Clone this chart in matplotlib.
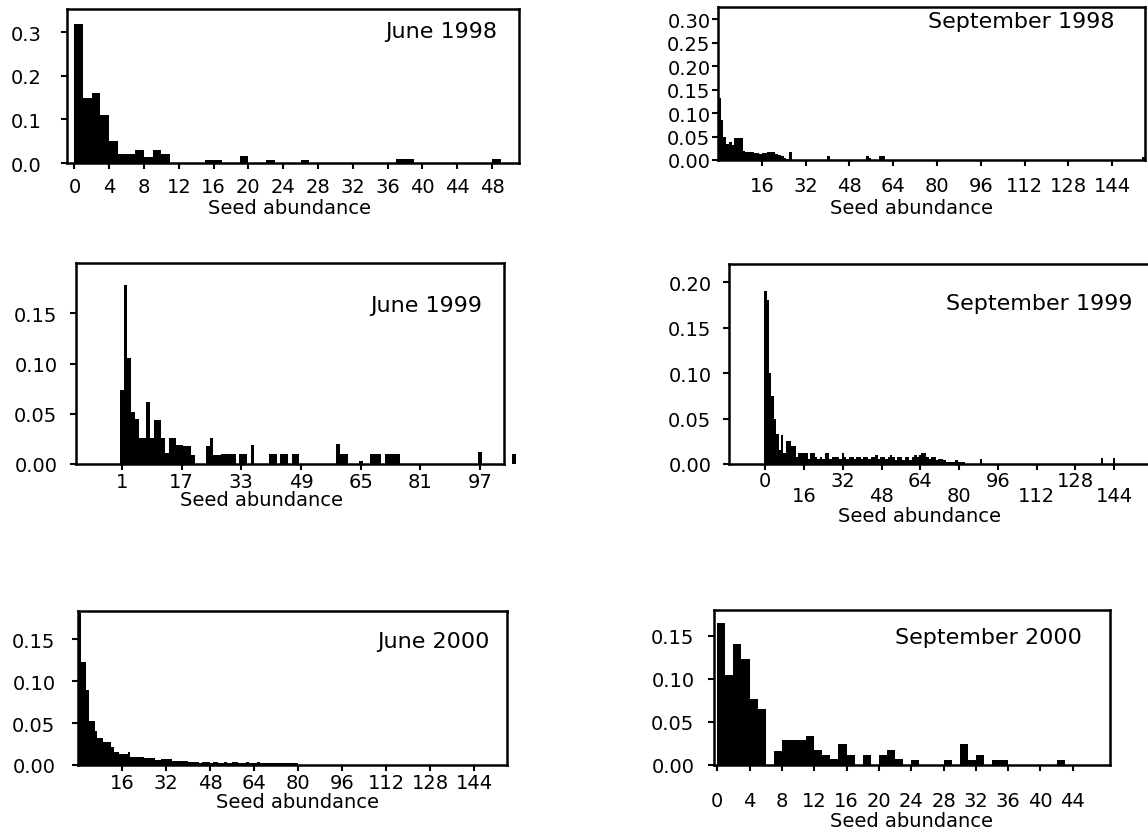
import matplotlib
matplotlib.use("Agg")
import matplotlib.pyplot as plt
from matplotlib.ticker import FixedLocator, FixedFormatter

plt.rcParams['font.family'] = ['DejaVu Sans']

# ---- data (relative frequency per seed abundance class) ----
june98_x = list(range(50))
june98_h = [0.32, 0.15, 0.16, 0.11, 0.05, 0.021, 0.021, 0.03, 0.013, 0.03,
            0.021, 0, 0, 0, 0, 0.007, 0.007, 0, 0, 0.017,
            0, 0, 0.007, 0, 0, 0, 0.007, 0, 0, 0,
            0, 0, 0, 0, 0, 0, 0, 0.009, 0.009, 0,
            0, 0, 0, 0, 0, 0, 0, 0, 0.009, 0]

sep98_x = list(range(61)) + [155]
sep98_h = [0.133, 0.085, 0.048, 0.035, 0.038, 0.032, 0.046, 0.046, 0.046, 0.02,
           0.018, 0.018, 0.018, 0.015, 0.015, 0.012, 0.014, 0.014, 0.018, 0.018,
           0.018, 0.012, 0.01, 0.008, 0.004, 0.003, 0.018, 0, 0, 0,
           0, 0, 0, 0, 0, 0, 0, 0, 0, 0,
           0.008, 0, 0, 0, 0, 0, 0, 0, 0, 0,
           0, 0, 0, 0, 0.008, 0.005, 0, 0, 0, 0.009,
           0.009, 0.007]

june99_x = list(range(1, 50)) + [59, 60, 61, 65, 68, 69, 70, 72, 73, 74, 75, 97, 106]
june99_h = [0.074, 0.178, 0.105, 0.052, 0.045, 0.026, 0.026, 0.062, 0.026, 0.044,
            0.044, 0.026, 0.011, 0.026, 0.026, 0.019, 0.019, 0.018, 0.018, 0.009,
            0, 0, 0, 0.018, 0.026, 0.009, 0.009, 0.01, 0.01, 0.01,
            0.01, 0, 0.01, 0.01, 0, 0.019, 0, 0, 0, 0,
            0.01, 0.01, 0, 0.01, 0.01, 0, 0.01, 0.01, 0,
            0.02, 0.01, 0.01, 0.003, 0.01, 0.01, 0.01, 0.01, 0.01, 0.01, 0.01,
            0.012, 0.01]

sep99_x = list(range(83)) + [89, 139, 144]
sep99_h = [0.19, 0.18, 0.10, 0.075, 0.05, 0.033, 0.015, 0.032, 0.012, 0.025,
           0.025, 0.02, 0.02, 0.008, 0.012, 0.012, 0.012, 0.012, 0.005, 0.012,
           0.012, 0.008, 0.005, 0.008, 0.005, 0.012, 0.012, 0.006, 0.008, 0.008,
           0.008, 0.006, 0.012, 0.008, 0.005, 0.008, 0.008, 0.005, 0.008, 0.008,
           0.005, 0.008, 0.008, 0.005, 0.008, 0.008, 0.01, 0.005, 0.008, 0.008,
           0.005, 0.008, 0.01, 0.008, 0.004, 0.008, 0.008, 0.004, 0.008, 0.008,
           0.004, 0.008, 0.01, 0.008, 0.01, 0.012, 0.012, 0.008, 0.005, 0.008,
           0.008, 0.004, 0.006, 0.006, 0.004, 0.002, 0.002, 0.002, 0.002, 0.004,
           0.002, 0.002, 0.002,
           0.005, 0.007, 0.007]

june00_x = list(range(80))
june00_h = [0.182, 0.123, 0.123, 0.09, 0.053, 0.053, 0.041, 0.032, 0.032, 0.028,
            0.028, 0.028, 0.022, 0.015, 0.015, 0.013, 0.013, 0.013, 0.016, 0.01,
            0.01, 0.01, 0.01, 0.01, 0.008, 0.008, 0.008, 0.008, 0.006, 0.006,
            0.007, 0.007, 0.007, 0.007, 0.005, 0.005, 0.005, 0.005, 0.005, 0.005,
            0.003, 0.003, 0.004, 0.003, 0.002, 0.003, 0.004, 0.003, 0.002, 0.003,
            0.003, 0.002, 0.002, 0.003, 0.002, 0.002, 0.003, 0.003, 0.002, 0.002,
            0.002, 0.003, 0.002, 0.002, 0.002, 0.003, 0.002, 0.002, 0.002, 0.002,
            0.002, 0.002, 0.002, 0.002, 0.002, 0.002, 0.002, 0.002, 0.002, 0.002]

sep00_x = list(range(43))
sep00_h = [0.165, 0.105, 0.14, 0.123, 0.077, 0.065, 0, 0.016, 0.029, 0.029,
           0.029, 0.034, 0.018, 0.012, 0.007, 0.024, 0.012, 0, 0.012, 0,
           0.012, 0.017, 0.007, 0, 0.006, 0, 0, 0, 0.006, 0,
           0.024, 0.006, 0.012, 0, 0.006, 0.006, 0, 0, 0, 0,
           0, 0, 0.006]

titles = ['June 1998', 'September 1998', 'June 1999',
          'September 1999', 'June 2000', 'September 2000']

W, H = 1148, 837
fig = plt.figure(figsize=(W / 100, H / 100), dpi=100)
PT = 0.72  # points per pixel at 100 dpi


def add_ax(box):
    left, right, top, bottom = box
    return fig.add_axes([left / W, 1 - bottom / H, (right - left) / W, (bottom - top) / H])


def style(ax, box, title, title_off, xpad, ypad, label_xy):
    left, right, top, bottom = box
    for s in ax.spines.values():
        s.set_linewidth(1.8)
    ax.tick_params(direction='out', length=4, width=1.5, labelsize=14,
                   top=False, right=False)
    ax.tick_params(axis='x', pad=xpad * PT)
    ax.tick_params(axis='y', pad=ypad * PT)
    ax.annotate(title, xy=(1, 1), xycoords='axes fraction',
                xytext=(-title_off[0] * PT, -title_off[1] * PT),
                textcoords='offset points', ha='right', va='center', fontsize=16)
    ax.set_xlabel('Seed abundance', fontsize=14)
    lx, ly = label_xy
    ax.xaxis.set_label_coords((lx - left) / (right - left), (bottom - ly) / (bottom - top))
    ax.xaxis.label.set_verticalalignment('center')


# June 1998
box = (67, 519, 10, 164)
ax = add_ax(box)
ax.bar(june98_x, june98_h, width=1, align='edge', color='black')
ax.set_xlim(-0.85, 51.1)
ax.set_ylim(0, 0.354)
ax.set_xticks(range(0, 49, 4))
ax.set_yticks([0, 0.1, 0.2, 0.3])
ax.set_yticklabels(['0.0', '0.1', '0.2', '0.3'])
style(ax, box, titles[0], (22, 22), 8, 20, (290, 209))

# September 1998
box = (718, 1145, 8, 161)
ax = add_ax(box)
ax.bar(sep98_x, sep98_h, width=1, align='edge', color='black')
ax.set_xlim(0, 156)
ax.set_ylim(0, 0.326)
ax.set_xticks(range(16, 145, 16))
ax.set_yticks([0, 0.05, 0.1, 0.15, 0.2, 0.25, 0.3])
ax.set_yticklabels(['0.00', '0.05', '0.10', '0.15', '0.20', '0.25', '0.30'])
style(ax, box, titles[1], (30, 14), 10, 2, (912, 208))

# June 1999
box = (76, 504, 264, 465)
ax = add_ax(box)
bars = ax.bar(june99_x, june99_h, width=1, align='center', color='black')
bars[-1].set_clip_on(False)
ax.set_xlim(-11.3, 103.4)
ax.set_ylim(0, 0.2)
ax.set_xticks(range(1, 98, 16))
ax.set_yticks([0, 0.05, 0.1, 0.15])
ax.set_yticklabels(['0.00', '0.05', '0.10', '0.15'])
style(ax, box, titles[2], (22, 42), 2, 13, (261, 501))

# September 1999 (labels staggered on two rows)
box = (729, 1160, 265, 465)
ax = add_ax(box)
ax.bar(sep99_x, sep99_h, width=1, align='center', color='black')
ax.set_xlim(-15, 163)
ax.set_ylim(0, 0.22)
ax.xaxis.set_major_locator(FixedLocator([0, 32, 64, 96, 128]))
ax.xaxis.set_minor_locator(FixedLocator([16, 48, 80, 112, 144]))
ax.xaxis.set_minor_formatter(FixedFormatter(['16', '48', '80', '112', '144']))
ax.set_yticks([0, 0.05, 0.1, 0.15, 0.2])
ax.set_yticklabels(['0.00', '0.05', '0.10', '0.15', '0.20'])
style(ax, box, titles[3], (28, 39), 1, 12, (920, 516))
ax.tick_params(axis='x', which='minor', direction='out', length=4, width=1.5,
               labelsize=14, pad=16 * PT)

# June 2000
box = (78, 507, 612, 766)
ax = add_ax(box)
ax.bar(june00_x, june00_h, width=1, align='edge', color='black')
ax.set_xlim(0, 156)
ax.set_ylim(0, 0.184)
ax.set_xticks(range(16, 145, 16))
ax.set_yticks([0, 0.05, 0.1, 0.15])
ax.set_yticklabels(['0.00', '0.05', '0.10', '0.15'])
style(ax, box, titles[4], (17, 30), 2, 17, (297, 803))

# September 2000
box = (714, 1110, 611, 766)
ax = add_ax(box)
ax.bar(sep00_x, sep00_h, width=1, align='edge', color='black')
ax.set_xlim(-0.4, 48.6)
ax.set_ylim(0, 0.18)
ax.set_xticks(range(0, 45, 4))
ax.set_yticks([0, 0.05, 0.1, 0.15])
ax.set_yticklabels(['0.00', '0.05', '0.10', '0.15'])
style(ax, box, titles[5], (28, 27), 20, 14, (911, 822))

fig.savefig('out.png', dpi=100)
